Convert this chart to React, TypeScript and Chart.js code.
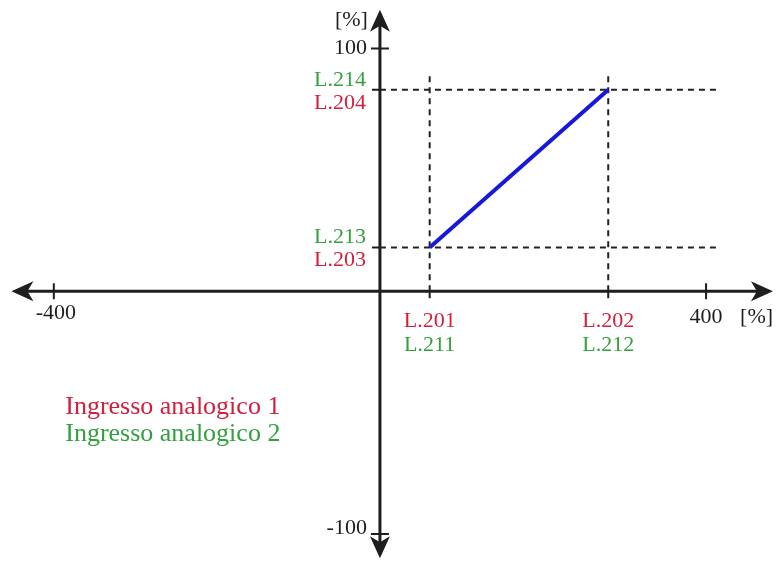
import React, { useEffect, useRef } from "react";
import { Chart, registerables } from "chart.js";

Chart.register(...registerables);

// ---- data ----
const xTickValues = [-400, 400];
const xTickLabels = ["-400", "400"];
const yTickValues = [100, -100];
const yTickLabels = ["100", "-100"];
const inputX = [61, 280]; // L.201 / L.202 (L.211 / L.212)
const inputY = [18, 83]; // L.203 / L.204 (L.213 / L.214)
const xLabelsRed = ["L.201", "L.202"];
const xLabelsGreen = ["L.211", "L.212"];
const yLabelsRed = ["L.203", "L.204"];
const yLabelsGreen = ["L.213", "L.214"];
const legendLabels = ["Ingresso analogico 1", "Ingresso analogico 2"];
const unitLabel = "[%]";
const xRange = { min: -466, max: 487 };
const yRange = { min: -112, max: 120 };
const xAxisEnds = [-452, 482];
const yAxisEnds = [-110, 116];
const guideXEnd = 413;
const guideYEnd = 90;

const RED = "#d0203e";
const GREEN = "#35a040";
const BLUE = "#1818d8";
const INK = "#1e1e1e";
const FONT = '"Liberation Serif", "Times New Roman", serif';

function arrow(ctx: CanvasRenderingContext2D, x: number, y: number, dx: number, dy: number) {
  const len = 22, hw = 10, back = 6;
  const px = -dy, py = dx;
  ctx.beginPath();
  ctx.moveTo(x, y);
  ctx.lineTo(x - dx * len + px * hw, y - dy * len + py * hw);
  ctx.lineTo(x - dx * (len - back), y - dy * (len - back));
  ctx.lineTo(x - dx * len - px * hw, y - dy * len - py * hw);
  ctx.closePath();
  ctx.fill();
}

const axesPlugin = {
  id: "axesThroughOrigin",
  beforeDatasetsDraw(chart: any) {
    const ctx: CanvasRenderingContext2D = chart.ctx;
    const xs = chart.scales.x, ys = chart.scales.y;
    const x0 = xs.getPixelForValue(0), y0 = ys.getPixelForValue(0);
    const xl = xs.getPixelForValue(xAxisEnds[0]), xr = xs.getPixelForValue(xAxisEnds[1]);
    const yt = ys.getPixelForValue(yAxisEnds[1]), yb = ys.getPixelForValue(yAxisEnds[0]);
    ctx.save();
    ctx.strokeStyle = INK;
    ctx.fillStyle = INK;
    ctx.lineWidth = 3;
    ctx.beginPath();
    ctx.moveTo(xl + 4, y0); ctx.lineTo(xr - 4, y0);
    ctx.moveTo(x0, yt + 4); ctx.lineTo(x0, yb - 4);
    ctx.stroke();
    arrow(ctx, xl, y0, -1, 0);
    arrow(ctx, xr, y0, 1, 0);
    arrow(ctx, x0, yt, 0, -1);
    arrow(ctx, x0, yb, 0, 1);
    ctx.lineWidth = 2;
    ctx.beginPath();
    xTickValues.forEach((v) => {
      const p = xs.getPixelForValue(v);
      ctx.moveTo(p, y0 - 8); ctx.lineTo(p, y0 + 8);
    });
    yTickValues.forEach((v) => {
      const p = ys.getPixelForValue(v);
      ctx.moveTo(x0 - 9, p); ctx.lineTo(x0 + 9, p);
    });
    inputX.forEach((v) => {
      const p = xs.getPixelForValue(v);
      ctx.moveTo(p, y0); ctx.lineTo(p, y0 + 7);
    });
    inputY.forEach((v) => {
      const p = ys.getPixelForValue(v);
      ctx.moveTo(x0 - 8, p); ctx.lineTo(x0, p);
    });
    ctx.stroke();
    ctx.restore();
  },
  afterDraw(chart: any) {
    const ctx: CanvasRenderingContext2D = chart.ctx;
    const xs = chart.scales.x, ys = chart.scales.y;
    const x0 = xs.getPixelForValue(0), y0 = ys.getPixelForValue(0);
    ctx.save();
    ctx.font = `22px ${FONT}`;
    ctx.textBaseline = "middle";
    // y axis labels
    ctx.textAlign = "right";
    ctx.fillStyle = INK;
    ctx.fillText(unitLabel, x0 - 12, ys.getPixelForValue(yAxisEnds[1]) + 11);
    yTickValues.forEach((v, i) => {
      ctx.fillText(yTickLabels[i], x0 - 13, ys.getPixelForValue(v) - (v < 0 ? 6 : 0));
    });
    inputY.forEach((v, i) => {
      const p = ys.getPixelForValue(v);
      ctx.fillStyle = GREEN;
      ctx.fillText(yLabelsGreen[i], x0 - 14, p - 10);
      ctx.fillStyle = RED;
      ctx.fillText(yLabelsRed[i], x0 - 14, p + 13);
    });
    // x axis labels
    ctx.textAlign = "center";
    ctx.fillStyle = INK;
    xTickValues.forEach((v, i) => {
      const p = xs.getPixelForValue(v);
      if (v > 0) {
        ctx.textAlign = "left";
        const w = ctx.measureText(xTickLabels[i]).width;
        ctx.fillText(xTickLabels[i], p - w / 2, y0 + 26);
        ctx.fillText(unitLabel, p + 34, y0 + 26);
        ctx.textAlign = "center";
      } else {
        ctx.fillText(xTickLabels[i], p + 2, y0 + 22);
      }
    });
    inputX.forEach((v, i) => {
      const p = xs.getPixelForValue(v);
      ctx.fillStyle = RED;
      ctx.fillText(xLabelsRed[i], p, y0 + 30);
      ctx.fillStyle = GREEN;
      ctx.fillText(xLabelsGreen[i], p, y0 + 54);
    });
    // legend
    ctx.textAlign = "left";
    ctx.font = `26px ${FONT}`;
    const lx = xs.getPixelForValue(-386);
    ctx.fillStyle = RED;
    ctx.fillText(legendLabels[0], lx, y0 + 116);
    ctx.fillStyle = GREEN;
    ctx.fillText(legendLabels[1], lx, y0 + 143);
    ctx.restore();
  },
};

export default function App() {
  const ref = useRef<HTMLCanvasElement | null>(null);
  useEffect(() => {
    if (!ref.current) return;
    const dash = [6, 5];
    const guide = (data: { x: number; y: number }[]) => ({
      data,
      borderColor: "#222",
      borderWidth: 2,
      borderDash: dash,
      pointRadius: 0,
      showLine: true,
      fill: false,
    });
    const chart = new Chart(ref.current, {
      type: "scatter",
      data: {
        datasets: [
          {
            data: inputX.map((x, i) => ({ x, y: inputY[i] })),
            borderColor: BLUE,
            borderWidth: 4,
            pointRadius: 0,
            showLine: true,
            fill: false,
          },
          guide([{ x: 0, y: inputY[0] }, { x: guideXEnd, y: inputY[0] }]),
          guide([{ x: 0, y: inputY[1] }, { x: guideXEnd, y: inputY[1] }]),
          guide([{ x: inputX[0], y: 0 }, { x: inputX[0], y: guideYEnd }]),
          guide([{ x: inputX[1], y: 0 }, { x: inputX[1], y: guideYEnd }]),
        ],
      },
      options: {
        animation: false,
        responsive: false,
        layout: { padding: 0 },
        plugins: { legend: { display: false }, tooltip: { enabled: false } },
        scales: {
          x: { type: "linear", min: xRange.min, max: xRange.max, display: false },
          y: { type: "linear", min: yRange.min, max: yRange.max, display: false },
        },
      },
      plugins: [axesPlugin],
    });
    return () => chart.destroy();
  }, []);
  return (
    <div style={{ position: "fixed", left: 0, top: 0, width: 777, height: 563, background: "#fff" }}>
      <canvas ref={ref} width={777} height={563} style={{ display: "block" }} />
    </div>
  );
}
